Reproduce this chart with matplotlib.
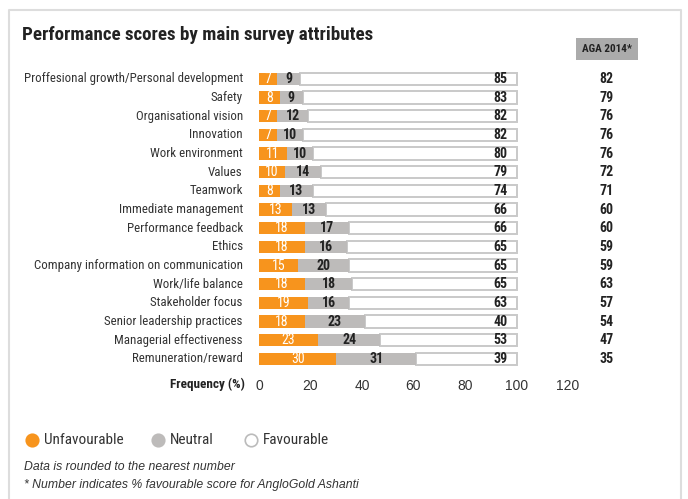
import matplotlib.pyplot as plt
from matplotlib.lines import Line2D

NARROW = ['Roboto Condensed', 'Liberation Sans', 'DejaVu Sans']
plt.rcParams['font.family'] = NARROW

# Data
attributes = [
    "Proffesional growth/Personal development", "Safety", "Organisational vision",
    "Innovation", "Work environment", "Values", "Teamwork", "Immediate management",
    "Performance feedback", "Ethics", "Company information on communication",
    "Work/life balance", "Stakeholder focus", "Senior leadership practices",
    "Managerial effectiveness", "Remuneration/reward",
]
unfavourable = [7, 8, 7, 7, 11, 10, 8, 13, 18, 18, 15, 18, 19, 18, 23, 30]
neutral = [9, 9, 12, 10, 10, 14, 13, 13, 17, 16, 20, 18, 16, 23, 24, 31]
favourable = [85, 83, 82, 82, 80, 79, 74, 66, 66, 65, 65, 65, 63, 40, 53, 39]
aga_2014 = [82, 79, 76, 76, 76, 72, 71, 60, 60, 59, 59, 63, 57, 54, 47, 35]
x_ticks = [0, 20, 40, 60, 80, 100, 120]

ORANGE = "#F7941D"
GREY = "#BDBBBA"
EDGE = "#C9C9C9"
PLAIN = ['Liberation Sans', 'DejaVu Sans']

fig = plt.figure(figsize=(6.88, 4.99), dpi=100)
ax = fig.add_axes([259 / 688, 1 - 368.3 / 499, 309 / 688, 298.7 / 499])

rows = range(len(attributes))
h = 0.66
# Favourable segment fills the remainder of the 100% bar
left_fav = [u + n for u, n in zip(unfavourable, neutral)]
ax.barh(rows, [100 - l for l in left_fav], left=left_fav, height=h,
        color="white", edgecolor=EDGE, linewidth=1.4, zorder=1)
ax.barh(rows, unfavourable, height=h, color=ORANGE, zorder=2)
ax.barh(rows, neutral, left=unfavourable, height=h, color=GREY, zorder=2)

for i in rows:
    u, n, f = unfavourable[i], neutral[i], favourable[i]
    ax.text(u / 2, i, str(u), ha="center", va="center", color="white",
            fontsize=10, zorder=3)
    ax.text(u + n / 2, i, str(n), ha="center", va="center", color="#222222",
            fontsize=10, fontweight="bold", zorder=3)
    ax.text(96.5, i, str(f), ha="right", va="center", color="#222222",
            fontsize=10, fontweight="bold", zorder=3)
    ax.text(135, i, str(aga_2014[i]), ha="center", va="center", color="#222222",
            fontsize=10, fontweight="bold", clip_on=False)
    ax.text(-6.3, i, attributes[i], ha="right", va="center", color="#333333",
            fontsize=9.3, clip_on=False)

ax.set_xlim(0, 120)
ax.set_ylim(len(attributes) - 0.5, -0.5)
ax.set_xticks(x_ticks)
ax.set_xticklabels([str(t) for t in x_ticks], fontsize=10, color="#333333",
                   family=PLAIN)
ax.tick_params(axis="x", length=0, pad=8)
ax.set_yticks([])
for s in ax.spines.values():
    s.set_visible(False)

fig.text(245 / 688, 1 - 384 / 499, "Frequency (%)", ha="right", va="center",
         fontsize=9.5, fontweight="bold", color="#222222")

# Title and header box
fig.text(22 / 688, 1 - 35 / 499, "Performance scores by main survey attributes",
         ha="left", va="center", fontsize=13.7, fontweight="bold", color="#222222")
fig.text(607 / 688, 1 - 49 / 499, "AGA 2014*", ha="center", va="center",
         fontsize=8, fontweight="bold", color="#222222",
         bbox=dict(boxstyle="square,pad=0.5", facecolor="#ABABAB", edgecolor="none"))

# Legend
leg_y = 1 - 440 / 499
for x0, face, edge, label in [(32, ORANGE, ORANGE, "Unfavourable"),
                              (158, GREY, GREY, "Neutral"),
                              (251, "white", "#BBBBBB", "Favourable")]:
    fig.lines.append(Line2D([x0 / 688], [leg_y], marker="o", markersize=9,
                            markerfacecolor=face, markeredgecolor=edge,
                            markeredgewidth=1.2, transform=fig.transFigure))
    fig.text((x0 + 12) / 688, leg_y, label, ha="left", va="center",
             fontsize=11, color="#333333")

# Footnotes
fig.text(24 / 688, 1 - 467 / 499, "Data is rounded to the nearest number",
         ha="left", va="center", fontsize=8.8, style="italic", color="#333333",
         family=PLAIN)
fig.text(24 / 688, 1 - 485 / 499, "* Number indicates % favourable score for AngloGold Ashanti",
         ha="left", va="center", fontsize=8.8, style="italic", color="#333333",
         family=PLAIN)

# Light frame around the panel
frame = dict(color="#DDDDDD", linewidth=1.5, transform=fig.transFigure)
fig.lines.append(Line2D([9 / 688, 9 / 688, 681 / 688, 681 / 688],
                        [0, 1 - 10 / 499, 1 - 10 / 499, 0], **frame))

fig.savefig("out.png", dpi=100, facecolor="white")
